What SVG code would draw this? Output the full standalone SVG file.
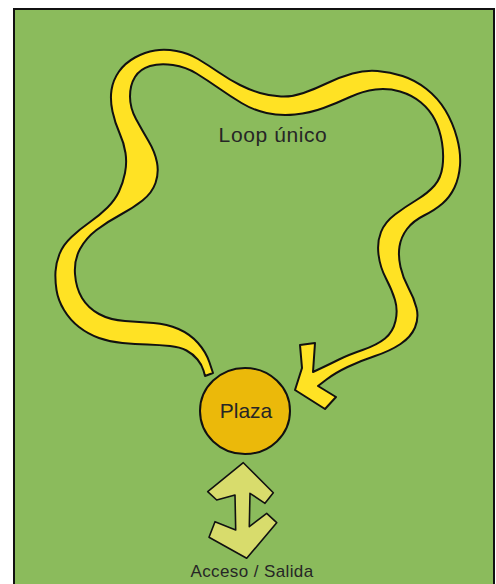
<svg xmlns="http://www.w3.org/2000/svg" width="496" height="584" viewBox="0 0 496 584">
<style>
.bg{fill:#8bbb5c;stroke:#111;stroke-width:2}
.ribbon{fill:#ffe224;stroke:#111;stroke-width:2;stroke-linejoin:round}
.plaza{fill:#ebb90a;stroke:#111;stroke-width:2}
.access{fill:#d8dc6c;stroke:#111;stroke-width:1.6;stroke-linejoin:round}
.lbl{font-family:"Liberation Sans",Arial,sans-serif;fill:#262626;text-anchor:middle}
</style>
<rect width="496" height="584" fill="#ffffff"/>
<rect class="bg" x="14" y="9" width="480" height="590"/>
<g id="connectors">
<path id="loop" class="ribbon" d="M205,376 L203.5,370.5 Q202,365 197.5,359.5 Q193,354 186.5,350.5 Q180,347 170,346 Q160,345 147.5,344.5 Q135,344 122.5,343 Q110,342 99,338 Q88,334 79,327 Q70,320 64,310 Q58,300 56.5,290 Q55,280 55.5,271.5 Q56,263 59.5,254 Q63,245 71.5,237 Q80,229 90,222 Q100,215 107.5,207.5 Q115,200 119,191.5 Q123,183 125,173 Q127,163 125.5,153 Q124,143 119.5,133 Q115,123 112.5,111.5 Q110,100 111.5,90 Q113,80 119,71.5 Q125,63 135,57.5 Q145,52 155,50.5 Q165,49 176.5,51 Q188,53 198,59 Q208,65 219,72.5 Q230,80 240,85 Q250,90 260,93 Q270,96 281,96.5 Q292,97 303.5,93 Q315,89 327.5,83 Q340,77 352.5,73.5 Q365,70 377.5,71 Q390,72 402.5,76 Q415,80 426.5,89 Q438,98 445.5,110.5 Q453,123 457,138 Q461,153 460,165.5 Q459,178 454.5,187.5 Q450,197 442.5,203.5 Q435,210 424,215.5 Q413,221 407,229 Q401,237 399.5,246.5 Q398,256 400.5,267 Q403,278 408.5,288 Q414,298 416.5,308 Q419,318 415,327.5 Q411,337 400.5,344 Q390,351 375,356 Q360,361 347.5,367 Q335,373 326.5,379.5 L318,386 L336,397 L325,409 L295,390 L302,368 L300,345 L315,343 L313,372 L321.5,368 Q330,364 339,359.5 Q348,355 362.5,350 Q377,345 385,338.5 Q393,332 395.5,321 Q398,310 395,300 Q392,290 386,278.5 Q380,267 378.5,254.5 Q377,242 381,232 Q385,222 395,214.5 Q405,207 416.5,200 Q428,193 434.5,185.5 Q441,178 442.5,166.5 Q444,155 442,142.5 Q440,130 435,120 Q430,110 421,102.5 Q412,95 400,91.5 Q388,88 375.5,89.5 Q363,91 350,97 Q337,103 323.5,108 Q310,113 295,114.5 Q280,116 266.5,113 Q253,110 241.5,103 Q230,96 218.5,88 Q207,80 196.5,73.5 Q186,67 173,65 Q160,63 150,66 Q140,69 135,77 Q130,85 130,96.5 Q130,108 136,119 Q142,130 148.5,141 Q155,152 157,162.5 Q159,173 155.5,183 Q152,193 142.5,200.5 Q133,208 120,215 Q107,222 96.5,230 Q86,238 80,249 Q74,260 75,274 Q76,288 82,298 Q88,308 99,314 Q110,320 125,321 Q140,322 153.5,323 Q167,324 178.5,329 Q190,334 198,343 Q206,352 209.5,362.5 L213,373 Z"/>
<path id="access-arrow" class="access" d="M243.3,462.7 L273.3,492.7 L265,503.3 L250,493.3 L249.3,526.7 L266.7,513.3 L276.7,522.7 L246.7,558.3 L209,537.3 L215,521.7 L235.7,530 L235,495 L216.7,500 L207.7,491.7 Z"/>
</g>
<g id="plaza">
<ellipse class="plaza" cx="245" cy="411" rx="45" ry="43"/>
<text class="lbl" x="246" y="418" font-size="21">Plaza</text>
</g>
<g id="labels">
<text id="loop-label" class="lbl" x="273" y="142" font-size="21" letter-spacing="0.6">Loop único</text>
<text id="access-label" class="lbl" x="252" y="577" font-size="17" letter-spacing="0.4">Acceso / Salida</text>
</g>
</svg>
